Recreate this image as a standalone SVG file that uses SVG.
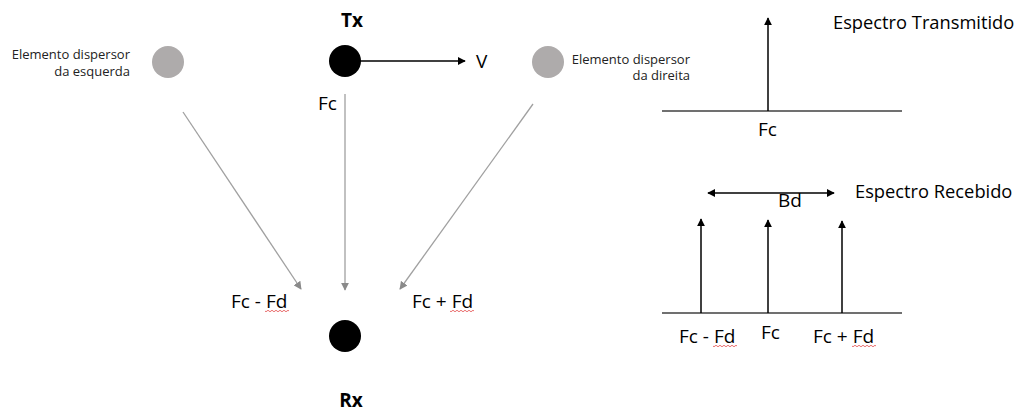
<svg xmlns="http://www.w3.org/2000/svg" width="1024" height="412" viewBox="0 0 1024 412">
<style>
text{font-family:"Open Sans","Liberation Sans",sans-serif;fill:#000}
.lbl{font-size:19px}
.sm{font-size:13px;fill:#222}
.big{font-size:18.3px}
.b{font-size:19px;font-weight:bold}
.g{stroke:#a0a0a0;stroke-width:1.3;fill:none}
.k{stroke:#000;stroke-width:1.5;fill:none}
.base{stroke:#404040;stroke-width:1.6}
.sq{stroke:#e03030;stroke-width:0.7;fill:none}
</style>
<defs>
<marker id="ag" viewBox="0 0 10 10" refX="9" refY="5" markerWidth="8" markerHeight="8" markerUnits="userSpaceOnUse" orient="auto"><path d="M0,0 L10,5 L0,10 z" fill="#8a8a8a"/></marker>
<marker id="ak" viewBox="0 0 10 10" refX="9" refY="5" markerWidth="8" markerHeight="8" markerUnits="userSpaceOnUse" orient="auto-start-reverse"><path d="M0,0 L10,5 L0,10 z" fill="#000"/></marker>
</defs>
<g id="connectors">
<line class="g" x1="183" y1="112" x2="301" y2="289" marker-end="url(#ag)"/>
<line class="g" x1="345" y1="94" x2="345" y2="290" marker-end="url(#ag)"/>
<line class="g" x1="533" y1="104" x2="400" y2="289" marker-end="url(#ag)"/>
<line class="k" x1="360" y1="61" x2="465" y2="61" marker-end="url(#ak)"/>
</g>
<g id="tx">
<circle cx="345" cy="61" r="16" fill="#000"/>
<text class="b" x="352" y="27" text-anchor="middle">Tx</text>
<text class="lbl" x="476" y="68">V</text>
<text class="lbl" x="318" y="110">Fc</text>
</g>
<g id="left-scatterer">
<circle cx="168" cy="62" r="16" fill="#aeabab"/>
<text class="sm" x="130" y="59" text-anchor="end">Elemento dispersor</text>
<text class="sm" x="130" y="76" text-anchor="end">da esquerda</text>
</g>
<g id="right-scatterer">
<circle cx="548" cy="62" r="16" fill="#aeabab"/>
<text class="sm" x="690" y="64" text-anchor="end">Elemento dispersor</text>
<text class="sm" x="690" y="80" text-anchor="end">da direita</text>
</g>
<g id="rx">
<circle cx="345" cy="336" r="16" fill="#000"/>
<text class="b" x="351" y="407" text-anchor="middle">Rx</text>
<text class="lbl" x="231" y="308">Fc - Fd</text>
<path class="sq" d="M265,311 q1,1.5 2,0 t2,0 t2,0 t2,0 t2,0 t2,0 t2,0 t2,0 t2,0 t2,0 t2,0 t2,0"/>
<text class="lbl" x="412" y="308">Fc + Fd</text>
<path class="sq" d="M450,311 q1,1.5 2,0 t2,0 t2,0 t2,0 t2,0 t2,0 t2,0 t2,0 t2,0 t2,0 t2,0 t2,0"/>
</g>
<g id="transmitted-spectrum">
<line class="base" x1="662" y1="111" x2="902" y2="111"/>
<line class="k" x1="768" y1="111" x2="768" y2="18" marker-end="url(#ak)"/>
<text class="big" x="833" y="29">Espectro Transmitido</text>
<text class="lbl" x="758" y="136">Fc</text>
</g>
<g id="received-spectrum">
<line class="k" x1="708" y1="193" x2="834" y2="193" marker-start="url(#ak)" marker-end="url(#ak)"/>
<text class="lbl" x="778" y="207">Bd</text>
<text class="big" x="855" y="198">Espectro Recebido</text>
<line class="base" x1="662" y1="313" x2="902" y2="313"/>
<line class="k" x1="701" y1="313" x2="701" y2="219" marker-end="url(#ak)"/>
<line class="k" x1="768" y1="313" x2="768" y2="220" marker-end="url(#ak)"/>
<line class="k" x1="842" y1="313" x2="842" y2="221" marker-end="url(#ak)"/>
<text class="lbl" x="679" y="343">Fc - Fd</text>
<path class="sq" d="M713,346 q1,1.5 2,0 t2,0 t2,0 t2,0 t2,0 t2,0 t2,0 t2,0 t2,0 t2,0 t2,0 t2,0"/>
<text class="lbl" x="761" y="339">Fc</text>
<text class="lbl" x="813" y="343">Fc + Fd</text>
<path class="sq" d="M852,346 q1,1.5 2,0 t2,0 t2,0 t2,0 t2,0 t2,0 t2,0 t2,0 t2,0 t2,0 t2,0 t2,0"/>
</g>
</svg>
